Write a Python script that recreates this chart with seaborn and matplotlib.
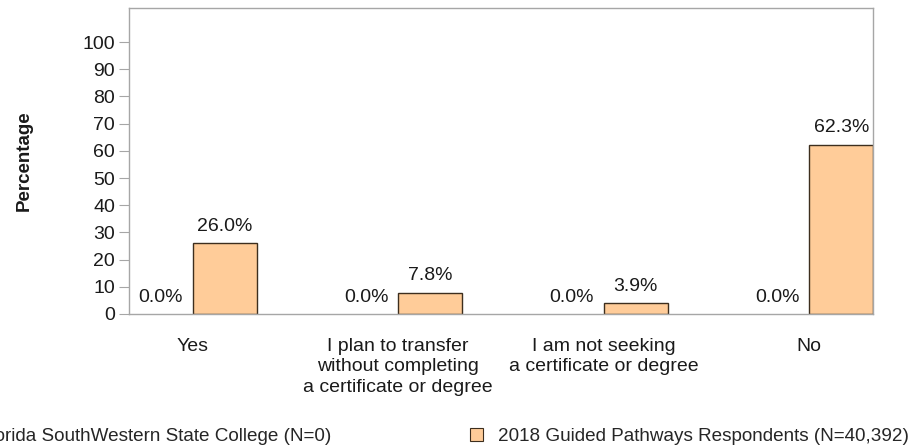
import matplotlib
matplotlib.use("Agg")
import matplotlib.pyplot as plt
import pandas as pd
import seaborn as sns
from matplotlib.patches import Patch

CATEGORIES = [
    "Yes",
    "I plan to transfer\nwithout completing\na certificate or degree",
    "I am not seeking\na certificate or degree",
    "No",
]
SERIES = [
    "Florida SouthWestern State College (N=0)",
    "2018 Guided Pathways Respondents (N=40,392)",
]
COLLEGE = [0.0, 0.0, 0.0, 0.0]
PATHWAYS = [26.0, 7.8, 3.9, 62.3]
Y_TICKS = [0, 10, 20, 30, 40, 50, 60, 70, 80, 90, 100]

COLORS = ["#1F3F77", "#FFCC99"]
EDGE = "#3D2E1E"
GRID = "#A6A6A6"
TEXT = "#1A1A1A"

sns.set_theme(style="white")
plt.rcParams["font.family"] = ["Liberation Sans", "DejaVu Sans"]

df = pd.DataFrame({
    "category": CATEGORIES * 2,
    "series": [SERIES[0]] * 4 + [SERIES[1]] * 4,
    "value": COLLEGE + PATHWAYS,
})

fig, ax = plt.subplots(figsize=(9.17, 4.46), dpi=100)
fig.subplots_adjust(left=0.1407, right=0.952, top=0.982, bottom=0.296)

sns.barplot(
    data=df, x="category", y="value", hue="series", order=CATEGORIES,
    hue_order=SERIES, palette=COLORS, width=0.622, gap=0,
    edgecolor=EDGE, linewidth=1.0, saturation=1, legend=False, ax=ax,
)

# the college series is all zeros: no visible bar, only its labels
for patch in ax.containers[0]:
    patch.set_linewidth(0)
    patch.set_alpha(0)

for container in ax.containers:
    labels = [f"{v:.1f}%" for v in container.datavalues]
    ax.bar_label(container, labels=labels, padding=6, fontsize=14, color=TEXT)

ax.set_xlim(-0.31, 3.31)
ax.set_ylim(0, 112.5)
ax.set_yticks(Y_TICKS)
ax.set_xlabel("")
ax.set_ylabel("Percentage", fontsize=13.5, fontweight="bold", labelpad=36, color=TEXT)
ax.tick_params(axis="y", labelsize=14, length=7, width=0.8, color=GRID, pad=3,
               left=True, labelcolor=TEXT)
ax.tick_params(axis="x", labelsize=14, length=0, pad=17, labelcolor=TEXT)
for label in ax.get_xticklabels():
    label.set_linespacing(1.3)
for spine in ax.spines.values():
    spine.set_color(GRID)
    spine.set_linewidth(1.0)

h1 = [Patch(facecolor=COLORS[0], edgecolor=EDGE, linewidth=0.8)]
h2 = [Patch(facecolor=COLORS[1], edgecolor=EDGE, linewidth=0.8)]
fig.legend(h1, [SERIES[0]], loc="center right", bbox_to_anchor=(0.361, 0.022),
           frameon=False, fontsize=13.6, handlelength=0.7, handleheight=0.7,
           handletextpad=0.8, borderaxespad=0, borderpad=0)
fig.legend(h2, [SERIES[1]], loc="center left", bbox_to_anchor=(0.5125, 0.022),
           frameon=False, fontsize=13.6, handlelength=0.7, handleheight=0.7,
           handletextpad=0.8, borderaxespad=0, borderpad=0)

fig.savefig("out.png", dpi=100)
